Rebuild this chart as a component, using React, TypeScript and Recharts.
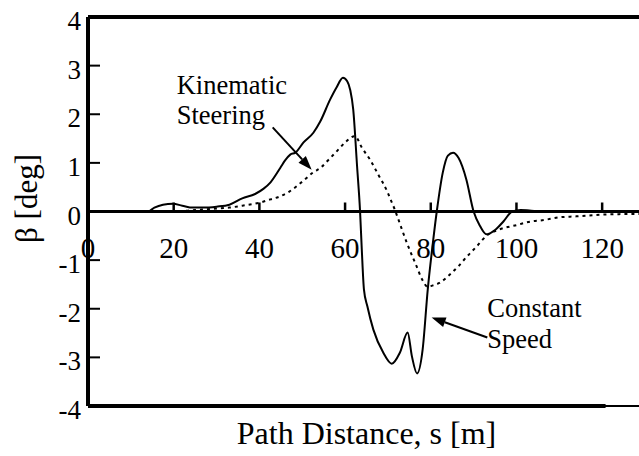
import React from 'react';
import { LineChart, Line, XAxis, YAxis, ReferenceLine, ReferenceDot } from 'recharts';

const FONT = 'Liberation Serif';

// Constant speed run (solid)
const constantSpeedS = [
  0, 14, 15.5, 17.5, 19.8, 22, 24.5, 27, 30, 33, 36, 39, 41, 42.6, 44.9, 46, 47.2, 48.4, 50.3,
  52.6, 54.2, 56.5, 58, 59.5, 60.5, 61.2, 61.9, 62.8, 63.5, 63.9, 64.4, 65.2, 66.6, 68.9, 70.9,
  72.8, 74.6, 75.6, 76.8, 78.1, 79.3, 80.5, 81.4, 82.8, 84, 85.2, 86.5, 88.3, 90, 91.5, 93, 95,
  97, 99, 101, 103, 106, 128.6,
];
const constantSpeedBeta = [
  0, 0, 0.08, 0.14, 0.16, 0.12, 0.08, 0.08, 0.1, 0.14, 0.27, 0.36, 0.47, 0.6, 0.9, 1.05, 1.17, 1.21,
  1.42, 1.62, 1.85, 2.3, 2.55, 2.75, 2.68, 2.5, 2.1, 0.93, 0, -0.78, -1.6, -1.95, -2.43, -2.9, -3.13,
  -2.9, -2.49, -2.98, -3.33, -2.84, -1.6, -0.64, 0, 0.8, 1.15, 1.21, 1.1, 0.66, 0, -0.3, -0.47,
  -0.38, -0.2, 0, 0.03, 0.02, 0, 0,
];

// Kinematic steering run (dotted)
const kinematicS = [
  0, 20, 25, 30, 33, 36, 40, 42.6, 44.8, 47, 50.1, 52.5, 54.3, 56, 58.5, 60, 62.3, 64, 65.8, 67.8,
  69.8, 70.6, 71.6, 72.1, 74.4, 76.7, 78, 79.3, 80.5, 82, 84.4, 86.5, 88.4, 90.7, 93, 96, 100,
  103.7, 106, 110, 114, 121, 128.6,
];
const kinematicBeta = [
  0, 0, 0.03, 0.06, 0.08, 0.12, 0.18, 0.25, 0.31, 0.41, 0.62, 0.8, 0.9, 1.05, 1.28, 1.42, 1.55, 1.3,
  1.07, 0.75, 0.42, 0.25, 0.04, -0.08, -0.64, -1.13, -1.4, -1.55, -1.52, -1.47, -1.3, -1.12, -0.93,
  -0.72, -0.5, -0.37, -0.28, -0.2, -0.18, -0.12, -0.1, -0.06, -0.05,
];

const distanceTicks = [0, 20, 40, 60, 80, 100, 120];
const betaTicks = [-4, -3, -2, -1, 0, 1, 2, 3, 4];

const constantSpeed = constantSpeedS.map((s, i) => ({ s, beta: constantSpeedBeta[i] }));
const kinematic = kinematicS.map((s, i) => ({ s, beta: kinematicBeta[i] }));

// y ticks point into the plot, labels sit to the left of the axis
const BetaTick = ({ x, y, payload }: any) => (
  <g>
    <line x1={x} y1={y} x2={x + 12} y2={y} stroke="#000" strokeWidth={2} />
    <text x={x - 7} y={y} dy={13} textAnchor="end" fontFamily={FONT} fontSize={27} fill="#000">
      {payload.value}
    </text>
  </g>
);

const arrowShape = (props: any) => {
  const { x1, y1, x2, y2 } = props;
  const dx = x2 - x1;
  const dy = y2 - y1;
  const len = Math.sqrt(dx * dx + dy * dy) || 1;
  const ux = dx / len;
  const uy = dy / len;
  const hl = 14;
  const hw = 5;
  const bx = x2 - ux * hl;
  const by = y2 - uy * hl;
  const pts = `${x2},${y2} ${bx - uy * hw},${by + ux * hw} ${bx + uy * hw},${by - ux * hw}`;
  return (
    <g>
      <line x1={x1} y1={y1} x2={bx} y2={by} stroke="#000" strokeWidth={2} />
      <polygon points={pts} fill="#000" />
    </g>
  );
};

const annotation = (text: string) => (p: any) => (
  <text x={p.cx} y={p.cy} fontFamily={FONT} fontSize={26.5} fill="#000">
    {text}
  </text>
);

export default function App() {
  return (
    <div style={{ position: 'absolute', left: 0, top: 0, background: '#fff' }}>
      <LineChart width={639} height={456} margin={{ top: 17, right: 0, left: 0, bottom: 0 }}>
        <XAxis
          dataKey="s"
          type="number"
          domain={[0, 128.6]}
          allowDataOverflow
          ticks={distanceTicks}
          tick={false}
          tickLine={false}
          axisLine={{ stroke: '#000', strokeWidth: 2 }}
          height={50}
          label={{
            content: ({ viewBox }: any) => (
              <text
                x={viewBox.x + viewBox.width / 2 + 3}
                y={viewBox.y + viewBox.height - 12}
                textAnchor="middle"
                fontFamily={FONT}
                fontSize={32}
                fill="#000"
              >
                Path Distance, s [m]
              </text>
            ),
          }}
        />
        <YAxis
          type="number"
          domain={[-4, 4]}
          ticks={betaTicks}
          interval={0}
          width={88}
          tickSize={0}
          tickMargin={0}
          tickLine={false}
          axisLine={{ stroke: '#000', strokeWidth: 4 }}
          tick={<BetaTick />}
          label={{
            content: ({ viewBox }: any) => (
              <text
                x={viewBox.x + 26}
                y={viewBox.y + viewBox.height / 2 - 13}
                transform={`rotate(-90, ${viewBox.x + 26}, ${viewBox.y + viewBox.height / 2 - 13})`}
                textAnchor="middle"
                dominantBaseline="central"
                fontFamily={FONT}
                fontSize={31}
                fill="#000"
              >
                β [deg]
              </text>
            ),
          }}
        />
        <ReferenceLine y={4} stroke="#000" strokeWidth={4} />
        <ReferenceLine
          segment={[
            { x: 0, y: -4 },
            { x: 120.8, y: -4 },
          ]}
          stroke="#000"
          strokeWidth={4}
        />
        <ReferenceLine y={0} stroke="#000" strokeWidth={3} />
        {distanceTicks.map((v) => (
          <ReferenceDot
            key={v}
            x={v}
            y={0}
            r={0}
            shape={(p: any) => (
              <g>
                {v > 0 && (
                  <line x1={p.cx} y1={p.cy} x2={p.cx} y2={p.cy - 9} stroke="#000" strokeWidth={2.5} />
                )}
                <text x={p.cx} y={p.cy + 46} textAnchor="middle" fontFamily={FONT} fontSize={29} fill="#000">
                  {v}
                </text>
              </g>
            )}
          />
        ))}
        <Line
          data={kinematic}
          dataKey="beta"
          type="monotone"
          stroke="#000"
          strokeWidth={2}
          strokeDasharray="3 4"
          dot={false}
          isAnimationActive={false}
        />
        <Line
          data={constantSpeed}
          dataKey="beta"
          type="monotone"
          stroke="#000"
          strokeWidth={2}
          dot={false}
          isAnimationActive={false}
        />
        <ReferenceDot x={20.7} y={2.41} r={0} shape={annotation('Kinematic')} />
        <ReferenceDot x={20.7} y={1.79} r={0} shape={annotation('Steering')} />
        <ReferenceDot x={93.2} y={-2.16} r={0} shape={annotation('Constant')} />
        <ReferenceDot x={93.2} y={-2.8} r={0} shape={annotation('Speed')} />
        <ReferenceLine
          segment={[
            { x: 43.1, y: 1.73 },
            { x: 52.2, y: 0.86 },
          ]}
          shape={arrowShape}
        />
        <ReferenceLine
          segment={[
            { x: 93.2, y: -2.59 },
            { x: 80.2, y: -2.18 },
          ]}
          shape={arrowShape}
        />
      </LineChart>
    </div>
  );
}
